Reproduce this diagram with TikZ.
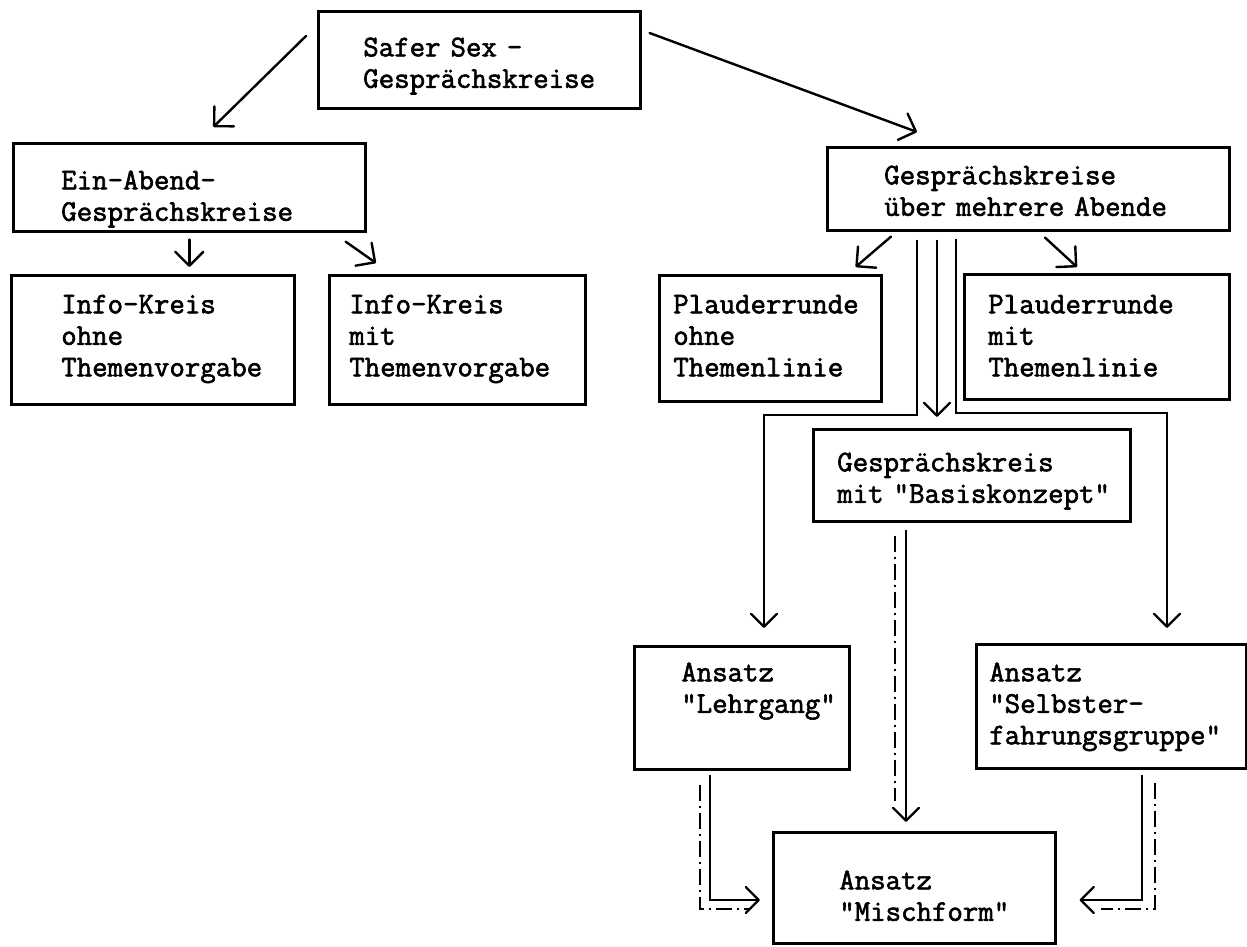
\documentclass[tikz,border=0pt]{standalone}
\usepackage{fontspec}
\newfontfamily\typer{lmmono12-regular.otf}[FakeBold=2]
\usetikzlibrary{arrows.meta,calc,positioning}
\tikzset{
	box/.style={draw,line width=2.6pt,anchor=north west,inner xsep=0pt,inner ysep=0pt,align=left,
		font=\typer\fontsize{30}{31.5}\selectfont},
	pad/.style={execute at begin node={\leftskip=#1\relax}},
	arr/.style={line width=2.4pt,line cap=round,-{Straight Barb[length=14pt,width=28pt,line width=2.4pt,round]}},
	thinarr/.style={line width=1.5pt,-{Straight Barb[length=13pt,width=26pt,line width=2.3pt,round]}},
	dashline/.style={line width=1.4pt,dash pattern=on 16pt off 5pt on 2pt off 5pt},
}
\begin{document}
\begin{tikzpicture}[x=1pt,y=-1pt]
				\useasboundingbox (0,0) rectangle (1247,947);
				\node (safer) at (317,10) [box,pad=45pt,text width=322pt,text height=45pt,text depth=52pt] {Safer Sex -\\Gesprächskreise};
				\node (einabend) at (12,142) [box,pad=48pt,text width=352pt,text height=46pt,text depth=42pt] {Ein-Abend-\\Gesprächskreise};
				\node (ueber) at (826,146) [box,pad=57pt,text width=402pt,text height=37pt,text depth=46pt] {Gesprächskreise\\über mehrere Abende};
				\node (infoohne) at (10,274) [box,pad=50pt,text width=283pt,text height=38pt,text depth=91pt] {Info-Kreis\\ohne\\Themenvorgabe};
				\node (infomit) at (328,274) [box,pad=20pt,text width=256pt,text height=38pt,text depth=91pt] {Info-Kreis\\mit\\Themenvorgabe};
				\node (plauderohne) at (658,274) [box,pad=14pt,text width=222pt,text height=38pt,text depth=88pt] {Plauderrunde\\ohne\\Themenlinie};
				\node (plaudermit) at (963,273) [box,pad=24pt,text width=265pt,text height=39pt,text depth=86pt] {Plauderrunde\\mit\\Themenlinie};
				\node (basis) at (812,428) [box,pad=24pt,text width=317pt,text height=42pt,text depth=50pt] {Gesprächskreis\\mit "Basiskonzept"};
				\node (lehrgang) at (633,645) [box,pad=47pt,text width=215pt,text height=35pt,text depth=88pt] {Ansatz\\"Lehrgang"};
				\node (selbst) at (975,643) [box,pad=13pt,text width=270pt,text height=37pt,text depth=87pt] {Ansatz\\"Selbster-\\fahrungsgruppe"};
				\node (misch) at (772,831) [box,pad=66pt,text width=282pt,text height=57pt,text depth=54pt] {Ansatz\\"Mischform"};
				\draw[arr] ($(safer.north west)+(-11,26)$) -- ($(einabend.north)+(24,-15)$);
				\draw[arr] ($(safer.north east)+(8,23)$) -- ($(ueber.north west)+(91,-14)$);
				\draw[arr] ($(einabend.south)+(0,7)$) coordinate (T1) -- ($(T1|-infoohne.north)+(0,-7)$);
				\draw[arr] ($(einabend.south east)+(-21,9)$) -- ($(infomit.north west)+(48,-11)$);
				\draw[arr] ($(ueber.south west)+(65,5)$) -- ($(plauderohne.north east)+(-27,-7)$);
				\draw[arr] ($(ueber.south west)+(219,6)$) -- ($(plaudermit.north west)+(114,-6)$);
				\draw[thinarr] ($(ueber.south west)+(91,8)$) |- ($(lehrgang.north west)+(131,-230)$) -- ($(lehrgang.north west)+(131,-17)$);
				\draw[thinarr] ($(ueber.south west)+(111,8)$) coordinate (T2) -- ($(T2|-basis.north)+(0,-11)$);
				\draw[thinarr] ($(ueber.south west)+(130,7)$) |- ($(selbst.north west)+(192,-230)$) -- ($(selbst.north west)+(192,-15)$);
				\draw[thinarr] ($(basis.south west)+(94,7)$) coordinate (T3) -- ($(T3|-misch.north)+(0,-9)$);
				\draw[dashline] ($(basis.south west)+(83,13)$) coordinate (T4) -- ($(T4|-misch.north)+(0,-30)$);
				\draw[thinarr] ($(lehrgang.south west)+(77,4)$) |- ($(misch.north west)+(-12,69)$);
				\draw[dashline] ($(lehrgang.south west)+(67,14)$) |- ($(misch.north west)+(-22,78)$);
				\draw[thinarr] ($(selbst.south west)+(167,5)$) |- ($(misch.north east)+(23,69)$);
				\draw[dashline] ($(selbst.south west)+(180,13)$) |- ($(misch.north east)+(44,78)$);
				\end{tikzpicture}
\end{document}
